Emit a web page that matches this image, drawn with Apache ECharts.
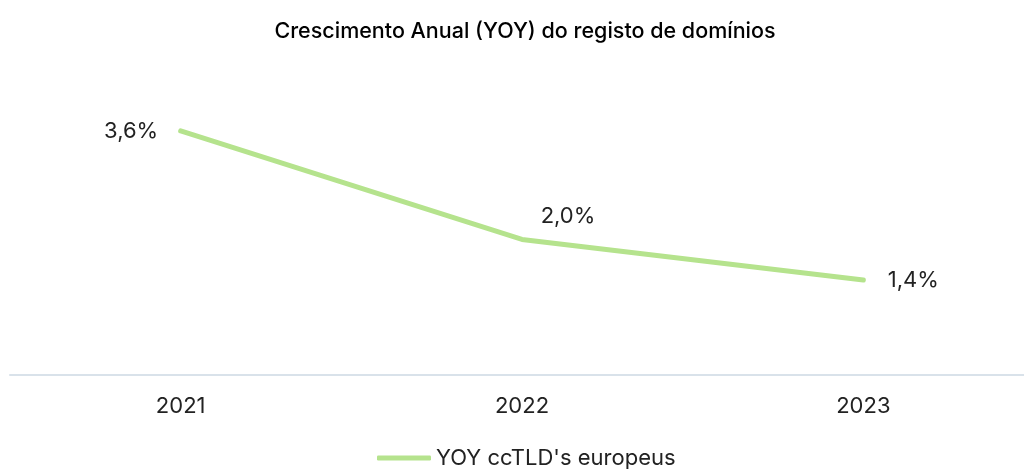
<!DOCTYPE html>
<html>
<head>
<meta charset="utf-8">
<script src="https://cdn.jsdelivr.net/npm/echarts@6/dist/echarts.min.js"></script>
<style>
html, body { margin: 0; padding: 0; background: #fff; }
#chart { width: 1024px; height: 469px; }
</style>
</head>
<body>
<div id="chart"></div>
<script>
var years = ["2021", "2022", "2023"];
var yoy = [3.6, 2.0, 1.4];
var seriesName = "YOY ccTLD's europeus";

// label placement per point, as in the original
var labelPos = [
  { position: "left", distance: 22 },
  { position: "top", offset: [46, 0], distance: 12 },
  { position: "right", distance: 24 }
];

var chart = echarts.init(document.getElementById("chart"));
chart.setOption({
  textStyle: { fontFamily: "Inter" },
  title: {
    text: "Crescimento Anual (YOY) do registo de domínios",
    left: 520,
    top: 16,
    textAlign: "center",
    textStyle: { fontSize: 21.5, fontWeight: 500, color: "#000", fontFamily: "Inter" }
  },
  legend: {
    data: [seriesName],
    bottom: -5,
    left: 372,
    itemWidth: 54,
    itemHeight: 5,
    itemGap: 5,
    icon: "roundRect",
    textStyle: { fontSize: 22, color: "#222", fontFamily: "Inter" }
  },
  grid: { left: 10, width: 1024, top: 36, bottom: 94, outerBoundsMode: "none" },
  xAxis: {
    type: "category",
    data: years,
    axisLine: { lineStyle: { color: "#d9e2ea", width: 2 } },
    axisTick: { show: false },
    axisLabel: { fontSize: 22, color: "#222", margin: 20 }
  },
  yAxis: {
    type: "value",
    min: 0,
    max: 5,
    show: false
  },
  series: [{
    name: seriesName,
    type: "line",
    data: yoy.map(function (v, i) {
      return { value: v, label: labelPos[i] };
    }),
    symbol: "circle",
    symbolSize: 1,
    lineStyle: { color: "#b5e38d", width: 5, cap: "round" },
    itemStyle: { color: "#b5e38d" },
    label: {
      show: true,
      fontSize: 22,
      color: "#222",
      formatter: function (p) { return p.value.toFixed(1).replace(".", ",") + "%"; }
    }
  }]
});
</script>
</body>
</html>
